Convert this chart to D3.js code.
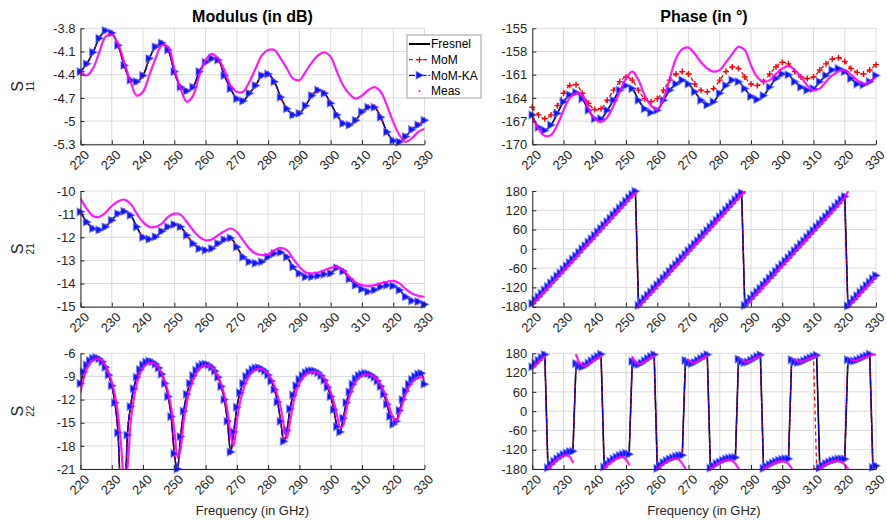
<!DOCTYPE html>
<html lang="en">
<head>
  <meta charset="UTF-8">
  <title>S-parameters: modulus and phase</title>
  <script src="https://d3js.org/d3.v7.min.js"></script>
  <style>
    body { margin: 0; background: #fff; }
  </style>
</head>
<body>
  <svg width="887" height="520"></svg>

  <script>
    // ---- data: frequency grids (GHz) and ticks ----
    var freqCoarse = d3.range(220, 331, 2)   // 56 points
    var freqFine = d3.range(220, 331, 1)     // 111 points
    var freqTicks = [220, 230, 240, 250, 260, 270, 280, 290, 300, 310, 320, 330]

    var s11MagTicks = [-5.3, -5, -4.7, -4.4, -4.1, -3.8]
    var s11PhTicks = [-170, -167, -164, -161, -158, -155]
    var s21MagTicks = [-15, -14, -13, -12, -11, -10]
    var s22MagTicks = [-21, -18, -15, -12, -9, -6]
    var phaseTicks = [-180, -120, -60, 0, 60, 120, 180]

    // S11 modulus (dB), coarse grid
    var s11MagModel = [
      -4.36, -4.26, -4.11, -3.93, -3.83, -3.86, -4.02, -4.28, -4.47, -4.49,
      -4.41, -4.19, -4.04, -3.99, -4.08, -4.36, -4.56, -4.61, -4.56, -4.36,
      -4.24, -4.19, -4.21, -4.41, -4.58, -4.71, -4.74, -4.64, -4.54, -4.41,
      -4.39, -4.49, -4.69, -4.84, -4.92, -4.90, -4.80, -4.67, -4.60, -4.64,
      -4.77, -4.92, -5.03, -5.05, -4.99, -4.88, -4.82, -4.82, -4.95, -5.14,
      -5.25, -5.27, -5.20, -5.11, -5.05, -4.99]
    var s11MagMeas = [
      -4.36, -4.41, -4.32, -4.11, -3.91, -3.88, -4.00, -4.24, -4.49, -4.67,
      -4.62, -4.41, -4.19, -4.02, -4.04, -4.32, -4.58, -4.75, -4.67, -4.41,
      -4.21, -4.13, -4.19, -4.34, -4.54, -4.62, -4.62, -4.49, -4.32, -4.15,
      -4.08, -4.08, -4.19, -4.32, -4.45, -4.47, -4.36, -4.24, -4.15, -4.11,
      -4.17, -4.36, -4.54, -4.65, -4.71, -4.67, -4.60, -4.56, -4.62, -4.80,
      -5.01, -5.18, -5.27, -5.22, -5.14, -5.10]

    // S11 phase (deg), coarse grid
    var s11PhMoM = [
      -165.2, -166.2, -166.7, -166.2, -165.0, -163.4, -162.4, -162.3, -163.4, -164.7,
      -165.5, -165.4, -164.3, -163.0, -161.9, -161.3, -161.7, -163.0, -164.1, -164.5,
      -164.1, -163.0, -161.7, -160.9, -160.6, -160.9, -162.2, -163.0, -163.2, -162.8,
      -161.7, -160.6, -160.0, -160.2, -161.3, -162.2, -162.4, -161.9, -160.9, -160.0,
      -159.4, -159.6, -160.6, -161.3, -161.5, -161.3, -160.4, -159.6, -159.0, -158.8,
      -159.3, -160.2, -160.7, -160.9, -160.4, -159.7]
    var s11PhKA = [
      -166.2, -167.8, -168.2, -167.5, -166.0, -164.5, -163.6, -163.3, -164.1, -165.6,
      -166.7, -166.7, -165.6, -164.3, -163.0, -162.4, -162.8, -164.3, -165.4, -165.9,
      -165.6, -164.3, -163.0, -162.2, -161.7, -162.2, -163.2, -164.3, -164.9, -164.5,
      -163.4, -162.4, -161.7, -161.9, -162.8, -163.8, -164.2, -163.7, -162.6, -161.5,
      -160.9, -161.0, -161.9, -162.6, -163.0, -162.8, -161.9, -161.1, -160.4, -160.2,
      -160.6, -161.5, -162.2, -162.3, -161.9, -161.1]
    var s11PhMeas = [
      -166.5, -168.0, -168.9, -168.8, -167.5, -165.6, -164.0, -163.4, -163.7, -165.4,
      -166.7, -167.1, -166.5, -165.0, -163.2, -161.5, -160.6, -161.7, -163.7, -165.0,
      -165.5, -164.1, -161.5, -158.9, -157.7, -157.5, -158.3, -159.4, -160.2, -160.6,
      -160.4, -159.4, -158.3, -157.4, -157.8, -159.8, -161.3, -161.9, -161.7, -160.9,
      -160.2, -159.9, -160.4, -161.3, -162.4, -163.0, -162.8, -161.9, -161.1, -160.6,
      -160.4, -161.0, -161.7, -162.2, -161.9, -161.3]

    // S21 modulus (dB), coarse grid
    var s21MagModel = [
      -10.9, -11.34, -11.62, -11.68, -11.55, -11.26, -10.98, -10.88, -11.05, -11.55,
      -12.0, -12.08, -11.98, -11.74, -11.55, -11.45, -11.55, -11.91, -12.27, -12.49,
      -12.56, -12.49, -12.27, -12.1, -12.03, -12.42, -12.85, -13.06, -13.12, -13.06,
      -12.85, -12.7, -12.65, -12.85, -13.28, -13.56, -13.71, -13.71, -13.66, -13.6,
      -13.56, -13.32, -13.46, -13.8, -14.07, -14.24, -14.35, -14.28, -14.14, -14.07,
      -14.1, -14.28, -14.57, -14.74, -14.78, -14.9]
    var s21MagMeas = [
      -10.33, -10.76, -11.08, -11.12, -10.93, -10.65, -10.45, -10.37, -10.55, -10.98,
      -11.34, -11.55, -11.55, -11.41, -11.12, -10.98, -11.02, -11.34, -11.7, -11.98,
      -12.13, -12.1, -11.91, -11.74, -11.62, -11.77, -12.13, -12.49, -12.7, -12.77,
      -12.73, -12.56, -12.46, -12.56, -12.92, -13.28, -13.52, -13.56, -13.52, -13.42,
      -13.32, -13.28, -13.42, -13.71, -13.95, -14.07, -14.1, -14.07, -13.99, -13.92,
      -13.88, -13.99, -14.24, -14.43, -14.53, -14.57]

    // S21 phase (deg), fine grid
    var s21PhModel = [
      -170, -159, -149, -138, -128, -117, -106, -96, -85, -75,
      -64, -53, -43, -32, -22, -11, 0, 10, 21, 31,
      42, 53, 63, 74, 84, 95, 106, 116, 127, 137,
      148, 159, 169, 179, -176, -165, -155, -144, -134, -123,
      -112, -102, -91, -81, -70, -59, -49, -38, -28, -17,
      -6, 4, 15, 25, 36, 47, 57, 68, 78, 89,
      100, 110, 121, 131, 142, 153, 163, 174, -176, -165,
      -155, -144, -134, -123, -112, -102, -91, -81, -70, -59,
      -49, -38, -28, -17, -6, 4, 15, 25, 36, 47,
      57, 68, 78, 89, 100, 110, 121, 131, 142, 153,
      163, -178, -167, -157, -146, -135, -125, -114, -104, -93,
      -83]
    var s21PhMeas = [
      -174, -163, -153, -142, -132, -121, -110, -100, -89, -79,
      -68, -57, -47, -36, -26, -15, -4, 6, 17, 27,
      38, 49, 59, 70, 80, 91, 102, 112, 123, 133,
      144, 155, 165, 175, -179, -169, -159, -148, -138, -127,
      -116, -106, -95, -85, -74, -63, -53, -42, -32, -21,
      -10, 0, 11, 21, 32, 43, 53, 64, 74, 85,
      96, 106, 117, 127, 138, 149, 159, 170, 179, -169,
      -159, -148, -138, -127, -116, -106, -95, -85, -74, -63,
      -53, -42, -32, -21, -10, 0, 11, 21, 32, 43,
      53, 64, 74, 85, 96, 106, 117, 127, 138, 149,
      159, 178, -171, -161, -150, -139, -129, -118, -108, -97,
      -87]

    // S22 modulus (dB), fine grid
    var s22MagModel = [
      -9.9, -8.4, -7.5, -6.95, -6.65, -6.55, -6.7, -7.1, -7.8, -8.8,
      -10.2, -12.4, -16.3, -25, -26, -16.6, -12.9, -10.6, -9.1, -8.1,
      -7.5, -7.15, -7.0, -7.1, -7.4, -7.9, -8.7, -9.9, -11.6, -14.2,
      -19.0, -21.0, -16.8, -13.5, -11.3, -9.9, -8.9, -8.2, -7.7, -7.45,
      -7.4, -7.5, -7.8, -8.3, -9.1, -10.3, -12.0, -14.8, -18.8, -16.2,
      -13.0, -11.1, -9.9, -9.0, -8.5, -8.1, -7.9, -7.85, -8.0, -8.3,
      -8.8, -9.6, -10.7, -12.3, -14.8, -17.4, -16.0, -13.2, -11.4, -10.2,
      -9.4, -8.9, -8.5, -8.3, -8.25, -8.3, -8.5, -8.9, -9.5, -10.4,
      -11.6, -13.3, -15.5, -16.2, -14.4, -12.4, -11.0, -10.0, -9.3, -8.9,
      -8.7, -8.6, -8.65, -8.8, -9.1, -9.6, -10.3, -11.3, -12.6, -14.2,
      -15.2, -14.8, -13.4, -12.0, -10.9, -10.0, -9.4, -9.0, -8.7, -8.6,
      -10.0]
    var s22MagMeas = [
      -11.0, -9.3, -8.1, -7.3, -6.9, -6.75, -6.75, -7.0, -7.6, -8.5,
      -9.7, -11.4, -13.9, -18.0, -23, -21, -15.2, -12.0, -10.0, -8.7,
      -7.9, -7.45, -7.25, -7.25, -7.45, -7.9, -8.6, -9.6, -11.0, -13.0,
      -16.0, -19.5, -18.5, -14.8, -12.4, -10.7, -9.5, -8.6, -8.0, -7.7,
      -7.55, -7.6, -7.85, -8.3, -9.0, -10.0, -11.4, -13.5, -16.5, -18.0,
      -14.8, -12.4, -10.8, -9.7, -8.9, -8.4, -8.1, -8.0, -8.05, -8.3,
      -8.7, -9.3, -10.2, -11.4, -13.0, -15.4, -17.0, -14.9, -12.6, -11.0,
      -9.9, -9.2, -8.75, -8.5, -8.4, -8.4, -8.55, -8.85, -9.3, -10.0,
      -11.0, -12.3, -14.0, -15.6, -15.4, -13.3, -11.7, -10.5, -9.7, -9.2,
      -8.9, -8.75, -8.75, -8.85, -9.1, -9.5, -10.1, -10.9, -12.0, -13.3,
      -14.4, -14.8, -13.9, -12.5, -11.3, -10.4, -9.8, -9.4, -9.2, -9.1,
      -9.3]

    // S22 phase (deg), fine grid
    var s22PhModel = [
      138, 148, 158, 167, 176, -176, -165, -156, -148, -141,
      -135, -130, -126, -125, 148, 140, 138, 142, 150, 157,
      164, 170, 177, -174, -164, -156, -149, -143, -138, -134,
      -131, -134, 155, 146, 145, 150, 157, 164, 170, 176,
      -178, -168, -160, -154, -149, -145, -141, -138, -137, 158,
      150, 148, 152, 158, 164, 170, 176, -177, -170, -163,
      -158, -153, -149, -146, -144, -144, 162, 154, 151, 153,
      158, 164, 170, 175, -178, -172, -166, -161, -157, -153,
      -150, -148, -148, 160, 153, 151, 153, 157, 162, 166,
      170, 174, -176, -169, -163, -158, -154, -151, -149, -148,
      -149, 160, 156, 156, 159, 163, 168, 172, 177, -175,
      -170]
    var s22PhMoM = [
      138, 148, 158, 167, 176, -176, -165, -156, -148, -141,
      -135, -130, -126, -125, 148, 140, 138, 142, 150, 157,
      164, 170, 177, -174, -164, -156, -149, -143, -138, -134,
      -131, -134, 155, 146, 145, 150, 157, 164, 170, 176,
      -178, -168, -160, -154, -149, -145, -141, -138, -137, 158,
      150, 148, 152, 158, 164, 170, 176, -177, -170, -163,
      -158, -153, -149, -146, -144, -144, 162, 154, 151, 153,
      158, 164, 170, 175, -178, -172, -166, -161, -157, -153,
      -150, -148, -148, 160, 153, 151, 153, 157, 162, 166,
      172, -179, -176, -169, -163, -158, -154, -151, -149, -148,
      -149, 160, 156, 156, 159, 163, 168, 172, 177, -175,
      -170]
    var s22PhMeas = [
      133, 143, 153, 162, 171, -178, -168, -158, -150, -143,
      -138, -137, -142, -158, 175, 152, 142, 141, 146, 153,
      160, 166, 173, -177, -167, -159, -152, -147, -143, -143,
      -150, -166, 168, 152, 147, 149, 155, 161, 167, 173,
      -179, -171, -163, -157, -152, -148, -147, -151, -163, -178,
      160, 151, 151, 156, 162, 167, 173, -179, -172, -165,
      -160, -155, -152, -151, -154, -163, -178, 160, 153, 154,
      158, 163, 168, 173, -179, -174, -168, -163, -159, -156,
      -155, -157, -164, -177, 162, 154, 154, 157, 161, 165,
      168, 172, -178, -171, -165, -160, -157, -155, -155, -158,
      -166, -179, 160, 157, 158, 162, 166, 170, 173, 176,
      176]

    var legendNames = ["Fresnel", "MoM", "MoM-KA", "Meas"]

    // ---- layout ----
    var svg = d3.select("svg")
    var defs = svg.append("defs")
    var font = '"Liberation Sans", Arial, Helvetica, sans-serif'
    var ink = "#262626"
    var cols = [[80.5, 424.5], [532.3, 876]]
    var rows = [[28.3, 144.3], [191, 306.7], [353.3, 469]]
    var triPath = "M-3.3,-3.8L4,0L-3.3,3.8Z"
    var plusPath = "M-3,0H3M0,-3V3"

    var panels = [
      { col: 0, row: 0, freq: freqCoarse, yDomain: [-5.3, -3.8], yTicks: s11MagTicks,
        fresnel: s11MagModel, mom: s11MagModel, momka: s11MagModel, meas: s11MagMeas, curve: d3.curveCatmullRom, sub: "11" },
      { col: 1, row: 0, freq: freqCoarse, yDomain: [-170, -155], yTicks: s11PhTicks,
        fresnel: s11PhKA, mom: s11PhMoM, momka: s11PhKA, meas: s11PhMeas, curve: d3.curveCatmullRom },
      { col: 0, row: 1, freq: freqCoarse, yDomain: [-15, -10], yTicks: s21MagTicks,
        fresnel: s21MagModel, mom: s21MagModel, momka: s21MagModel, meas: s21MagMeas, curve: d3.curveCatmullRom, sub: "21" },
      { col: 1, row: 1, freq: freqFine, yDomain: [-180, 180], yTicks: phaseTicks,
        fresnel: s21PhModel, mom: s21PhModel, momka: s21PhModel, meas: s21PhMeas, curve: d3.curveLinear },
      { col: 0, row: 2, freq: freqFine, yDomain: [-21, -6], yTicks: s22MagTicks,
        fresnel: s22MagModel, mom: s22MagModel, momka: s22MagModel, meas: s22MagMeas, curve: d3.curveMonotoneX, sub: "22" },
      { col: 1, row: 2, freq: freqFine, yDomain: [-180, 180], yTicks: phaseTicks,
        fresnel: s22PhModel, mom: s22PhMoM, momka: s22PhModel, meas: s22PhMeas, curve: d3.curveLinear }
    ]

    // split a series where the phase wraps, so the dots do not get joined
    function splitJumps(points) {
      var segs = [[points[0]]]
      for (var k = 1; k < points.length; k++) {
        if (Math.abs(points[k][1] - points[k - 1][1]) > 180) segs.push([])
        segs[segs.length - 1].push(points[k])
      }
      return segs
    }

    function drawPanel(p, i) {
      var x0 = cols[p.col][0], x1 = cols[p.col][1]
      var y0 = rows[p.row][0], y1 = rows[p.row][1]
      var x = d3.scaleLinear().domain([220, 330]).range([x0, x1])
      var y = d3.scaleLinear().domain(p.yDomain).range([y1, y0])
      var g = svg.append("g")

      defs.append("clipPath").attr("id", "clip" + i).append("rect")
        .attr("x", x0).attr("y", y0).attr("width", x1 - x0).attr("height", y1 - y0)

      // grid
      g.append("g").selectAll("line").data(freqTicks).enter().append("line")
        .attr("x1", function(d){ return x(d) }).attr("x2", function(d){ return x(d) })
        .attr("y1", y0).attr("y2", y1)
        .attr("stroke", "#dcdcdc").attr("stroke-width", 1)
      g.append("g").selectAll("line").data(p.yTicks).enter().append("line")
        .attr("x1", x0).attr("x2", x1)
        .attr("y1", function(d){ return y(d) }).attr("y2", function(d){ return y(d) })
        .attr("stroke", "#dcdcdc").attr("stroke-width", 1)

      var pts = function(vals){ return p.freq.map(function(f, k){ return [f, vals[k]] }) }
      var inRange = function(d){ return d[1] >= p.yDomain[0] - 0.01 && d[1] <= p.yDomain[1] + 0.01 }
      var line = d3.line()
        .x(function(d){ return x(d[0]) })
        .y(function(d){ return y(d[1]) })
        .curve(p.curve)

      var plot = g.append("g").attr("clip-path", "url(#clip" + i + ")")

      // Fresnel
      plot.append("path").datum(pts(p.fresnel)).attr("d", line)
        .attr("fill", "none").attr("stroke", "#000").attr("stroke-width", 1.6)

      // MoM
      plot.append("path").datum(pts(p.mom)).attr("d", line)
        .attr("fill", "none").attr("stroke", "#ff0000").attr("stroke-width", 1.3)
        .attr("stroke-dasharray", "4,3")
      g.append("g").selectAll("path").data(pts(p.mom).filter(inRange)).enter().append("path")
        .attr("d", plusPath)
        .attr("transform", function(d){ return "translate(" + x(d[0]) + "," + y(d[1]) + ")" })
        .attr("stroke", "#ff0000").attr("stroke-width", 1.4).attr("fill", "none")

      // MoM-KA
      var kaLayer = g.append("g").attr("clip-path", "url(#clip" + i + ")")
      kaLayer.append("path").datum(pts(p.momka)).attr("d", line)
        .attr("fill", "none").attr("stroke", "#0000ff").attr("stroke-width", 1.2)
        .attr("stroke-dasharray", "6,2,1.5,2")
      g.append("g").selectAll("path").data(pts(p.momka).filter(inRange)).enter().append("path")
        .attr("d", triPath)
        .attr("transform", function(d){ return "translate(" + x(d[0]) + "," + y(d[1]) + ")" })
        .attr("fill", "#1010ff").attr("stroke", "rgba(90,110,255,0.55)").attr("stroke-width", 1.4)

      // Meas, on top of the model markers
      var measLayer = g.append("g").attr("clip-path", "url(#clip" + i + ")")
      measLayer.selectAll("path").data(splitJumps(pts(p.meas))).enter().append("path")
        .attr("d", line)
        .attr("fill", "none").attr("stroke", "#ff00ff").attr("stroke-width", 2.2)
        .attr("stroke-linecap", "round").attr("stroke-opacity", 0.9)

      // axes
      var xAxis = d3.axisBottom(x).tickValues(freqTicks).tickSize(-4).tickSizeOuter(0)
        .tickFormat(function(d){ return String(d) })
      var gx = g.append("g").attr("transform", "translate(0," + y1 + ")").call(xAxis)
      gx.attr("font-size", 13).attr("font-family", font)
      gx.select(".domain").attr("stroke", ink)
      gx.selectAll(".tick line").attr("stroke", ink)
      gx.selectAll(".tick text")
        .attr("y", 0).attr("dy", "0.35em").attr("text-anchor", "end")
        .attr("transform", "translate(6,8) rotate(-45)")
        .attr("fill", ink)

      var yAxis = d3.axisLeft(y).tickValues(p.yTicks).tickSize(-4).tickSizeOuter(0).tickPadding(5)
        .tickFormat(function(d){ return String(d) })
      var gy = g.append("g").attr("transform", "translate(" + x0 + ",0)").call(yAxis)
      gy.attr("font-size", 13).attr("font-family", font)
      gy.select(".domain").attr("stroke", ink)
      gy.selectAll(".tick line").attr("stroke", ink)
      gy.selectAll(".tick text").attr("fill", ink)

      // y label S_xx
      if (p.sub) {
        var ym = (y0 + y1) / 2
        g.append("text").text("S")
          .attr("transform", "translate(23," + ym + ") rotate(-90)")
          .attr("text-anchor", "middle").attr("font-family", font).attr("font-size", 16).attr("fill", ink)
        g.append("text").text(p.sub)
          .attr("transform", "translate(34," + ym + ") rotate(-90)")
          .attr("text-anchor", "middle").attr("font-family", font).attr("font-size", 10).attr("fill", ink)
      }
    }

    panels.forEach(drawPanel)

    // titles and x labels
    svg.append("text").text("Modulus (in dB)")
      .attr("x", 252.5).attr("y", 22).attr("text-anchor", "middle")
      .attr("font-family", font).attr("font-size", 16).attr("font-weight", "bold").attr("fill", "#000")
    svg.append("text").text("Phase (in °)")
      .attr("x", 704).attr("y", 22).attr("text-anchor", "middle")
      .attr("font-family", font).attr("font-size", 16).attr("font-weight", "bold").attr("fill", "#000")
    svg.append("text").text("Frequency (in GHz)")
      .attr("x", 252.5).attr("y", 515).attr("text-anchor", "middle")
      .attr("font-family", font).attr("font-size", 13).attr("fill", ink)
    svg.append("text").text("Frequency (in GHz)")
      .attr("x", 704).attr("y", 515).attr("text-anchor", "middle")
      .attr("font-family", font).attr("font-size", 13).attr("fill", ink)

    // legend
    var lg = svg.append("g")
    lg.append("rect").attr("x", 407).attr("y", 35).attr("width", 74).attr("height", 63)
      .attr("fill", "#fff").attr("stroke", "#a0a0a0").attr("stroke-width", 1)
    var items = lg.selectAll(".item").data(legendNames).enter().append("g")
      .attr("transform", function(d, k){ return "translate(0," + (44 + k * 15.65) + ")" })
    items.append("text").text(function(d){ return d })
      .attr("x", 431).attr("y", 0).attr("dy", "0.35em")
      .attr("font-family", font).attr("font-size", 12).attr("fill", "#000")
    items.filter(function(d, k){ return k === 0 }).append("line")
      .attr("x1", 409).attr("x2", 430).attr("stroke", "#000").attr("stroke-width", 2)
    var momItem = items.filter(function(d, k){ return k === 1 })
    momItem.append("line").attr("x1", 409).attr("x2", 430)
      .attr("stroke", "#ff0000").attr("stroke-width", 1.3).attr("stroke-dasharray", "4,3")
    momItem.append("path").attr("d", plusPath).attr("transform", "translate(419.5,0)")
      .attr("stroke", "#ff0000").attr("stroke-width", 1.2)
    var kaItem = items.filter(function(d, k){ return k === 2 })
    kaItem.append("line").attr("x1", 409).attr("x2", 430)
      .attr("stroke", "#0000ff").attr("stroke-width", 1.2).attr("stroke-dasharray", "6,2,1.5,2")
    kaItem.append("path").attr("d", triPath).attr("transform", "translate(419.5,0)")
      .attr("fill", "#1010ff").attr("stroke", "rgba(90,110,255,0.55)").attr("stroke-width", 1.2)
    items.filter(function(d, k){ return k === 3 }).append("circle")
      .attr("cx", 419.5).attr("cy", 0).attr("r", 1).attr("fill", "#ff00ff")
  </script>
</body>
</html>
